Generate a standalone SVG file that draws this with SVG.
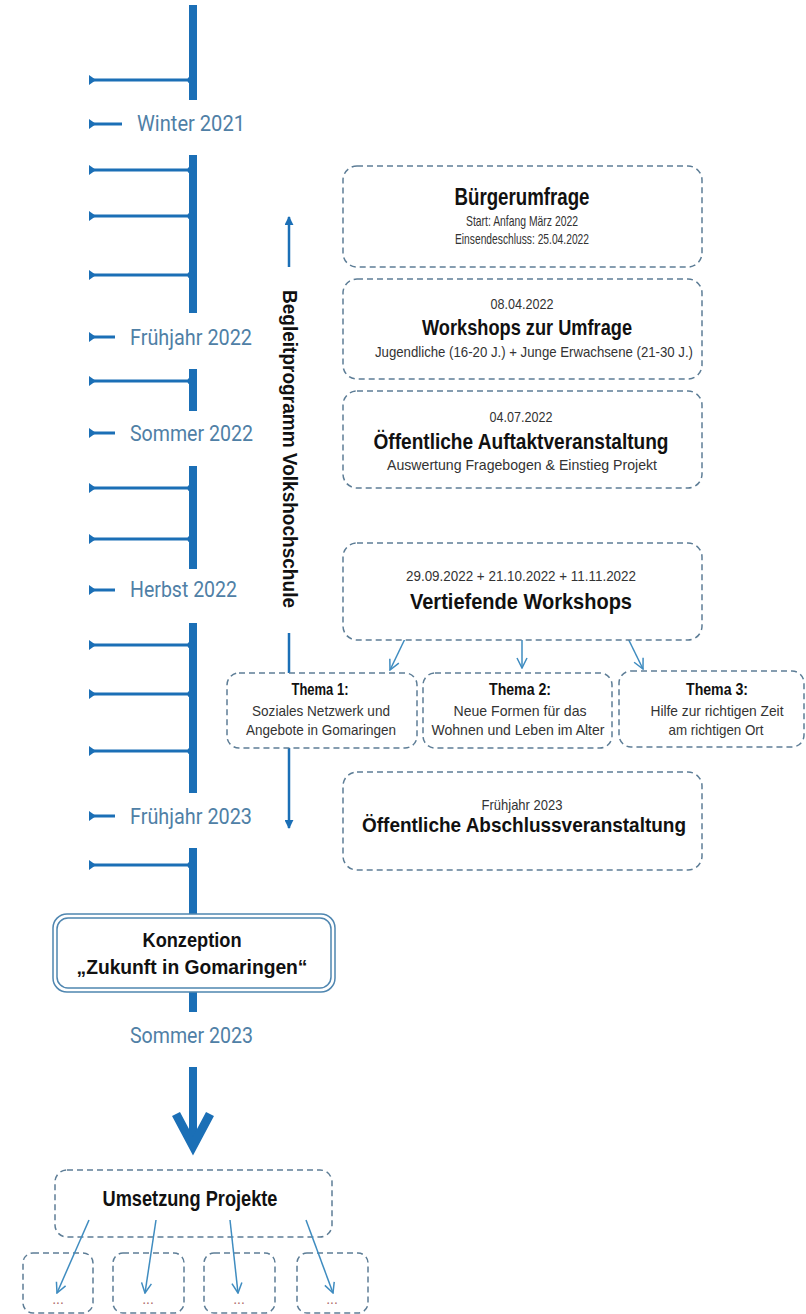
<svg xmlns="http://www.w3.org/2000/svg" width="806" height="1314" viewBox="0 0 806 1314">
<defs>
<marker id="open" viewBox="0 0 12 12" refX="11" refY="6" markerWidth="12" markerHeight="12" markerUnits="userSpaceOnUse" orient="auto">
<path d="M1,1 L11,6 L1,11" fill="none" stroke="#3f8cc0" stroke-width="1.5"/>
</marker>
<marker id="solid" viewBox="0 0 10 10" refX="9" refY="5" markerWidth="9" markerHeight="9" markerUnits="userSpaceOnUse" orient="auto">
<path d="M0,0 L10,5 L0,10 Z" fill="#1b6fb6"/>
</marker>
</defs>
<style>
.bar{fill:#1b6fb6}
.tick{stroke:#1b6fb6;stroke-width:3;fill:none}
.tri{fill:#1b6fb6}
.lbl{font-family:"Liberation Sans Narrow","Roboto",sans-serif;font-size:22px;fill:#4f80a6}
.box{fill:#fff;stroke:#5d7d96;stroke-width:1.5;stroke-dasharray:6 4}
.dbl{fill:#fff;stroke:#4f86b0;stroke-width:1.5}
.t{font-family:"Liberation Sans Narrow","Liberation Sans",sans-serif;text-anchor:middle}
.b{font-weight:bold;fill:#111}
.s{fill:#333}
.arr{stroke:#3f8cc0;stroke-width:1.5;fill:none;marker-end:url(#open)}
.varr{stroke:#1b6fb6;stroke-width:2.5;fill:none;marker-end:url(#solid)}
.dots{font-family:"Liberation Sans",sans-serif;font-size:14px;fill:#b06a6a;text-anchor:middle}
</style>
<rect width="806" height="1314" fill="#fff"/>

<g id="timeline">
<rect class="bar" x="189" y="5" width="8" height="95"/>
<rect class="bar" x="189" y="155" width="8" height="158"/>
<rect class="bar" x="189" y="369" width="8" height="42"/>
<rect class="bar" x="189" y="466" width="8" height="103"/>
<rect class="bar" x="189" y="623" width="8" height="170"/>
<rect class="bar" x="189" y="848" width="8" height="70"/>
<rect class="bar" x="189" y="990" width="8" height="22"/>
<rect class="bar" x="189" y="1067" width="8" height="76"/>
<path d="M176,1114 L193,1146 L210,1114" fill="none" stroke="#1b6fb6" stroke-width="9" stroke-linejoin="miter"/>
</g>

<g id="ticks">
<g id="tick-80"><line class="tick" x1="92" y1="80" x2="191" y2="80"/><polygon class="tri" points="89,75 96,80 89,85"/><circle class="tri" cx="191" cy="80" r="3.5"/></g>
<g id="tick-170"><line class="tick" x1="92" y1="170" x2="191" y2="170"/><polygon class="tri" points="89,165 96,170 89,175"/><circle class="tri" cx="191" cy="170" r="3.5"/></g>
<g id="tick-216"><line class="tick" x1="92" y1="216" x2="191" y2="216"/><polygon class="tri" points="89,211 96,216 89,221"/><circle class="tri" cx="191" cy="216" r="3.5"/></g>
<g id="tick-275"><line class="tick" x1="92" y1="275" x2="191" y2="275"/><polygon class="tri" points="89,270 96,275 89,280"/><circle class="tri" cx="191" cy="275" r="3.5"/></g>
<g id="tick-381"><line class="tick" x1="92" y1="381" x2="191" y2="381"/><polygon class="tri" points="89,376 96,381 89,386"/><circle class="tri" cx="191" cy="381" r="3.5"/></g>
<g id="tick-488"><line class="tick" x1="92" y1="488" x2="191" y2="488"/><polygon class="tri" points="89,483 96,488 89,493"/><circle class="tri" cx="191" cy="488" r="3.5"/></g>
<g id="tick-539"><line class="tick" x1="92" y1="539" x2="191" y2="539"/><polygon class="tri" points="89,534 96,539 89,544"/><circle class="tri" cx="191" cy="539" r="3.5"/></g>
<g id="tick-645"><line class="tick" x1="92" y1="645" x2="191" y2="645"/><polygon class="tri" points="89,640 96,645 89,650"/><circle class="tri" cx="191" cy="645" r="3.5"/></g>
<g id="tick-694"><line class="tick" x1="92" y1="694" x2="191" y2="694"/><polygon class="tri" points="89,689 96,694 89,699"/><circle class="tri" cx="191" cy="694" r="3.5"/></g>
<g id="tick-751"><line class="tick" x1="92" y1="751" x2="191" y2="751"/><polygon class="tri" points="89,746 96,751 89,756"/><circle class="tri" cx="191" cy="751" r="3.5"/></g>
<g id="tick-865"><line class="tick" x1="92" y1="865" x2="191" y2="865"/><polygon class="tri" points="89,860 96,865 89,870"/><circle class="tri" cx="191" cy="865" r="3.5"/></g>
</g>

<g id="season-labels">
<g id="lbl-winter2021"><line class="tick" x1="92" y1="124" x2="122" y2="124"/><polygon class="tri" points="89,119 96,124 89,129"/><text class="lbl" x="137" y="131" textLength="108" lengthAdjust="spacingAndGlyphs">Winter 2021</text></g>
<g id="lbl-fruehjahr2022"><line class="tick" x1="92" y1="337" x2="115" y2="337"/><polygon class="tri" points="89,332 96,337 89,342"/><text class="lbl" x="130" y="345" textLength="122" lengthAdjust="spacingAndGlyphs">Frühjahr 2022</text></g>
<g id="lbl-sommer2022"><line class="tick" x1="92" y1="433" x2="115" y2="433"/><polygon class="tri" points="89,428 96,433 89,438"/><text class="lbl" x="130" y="441" textLength="123" lengthAdjust="spacingAndGlyphs">Sommer 2022</text></g>
<g id="lbl-herbst2022"><line class="tick" x1="92" y1="590" x2="115" y2="590"/><polygon class="tri" points="89,585 96,590 89,595"/><text class="lbl" x="130" y="597" textLength="107" lengthAdjust="spacingAndGlyphs">Herbst 2022</text></g>
<g id="lbl-fruehjahr2023"><line class="tick" x1="92" y1="816" x2="115" y2="816"/><polygon class="tri" points="89,811 96,816 89,821"/><text class="lbl" x="130" y="824" textLength="122" lengthAdjust="spacingAndGlyphs">Frühjahr 2023</text></g>
<g id="lbl-sommer2023"><text class="lbl" x="130" y="1043" textLength="123" lengthAdjust="spacingAndGlyphs">Sommer 2023</text></g>
</g>

<g id="connectors">
<line class="varr" x1="289" y1="267" x2="289" y2="217"/>
<line class="varr" x1="289" y1="633" x2="289" y2="828"/>
<line class="arr" x1="415" y1="618" x2="390" y2="670"/>
<line class="arr" x1="522" y1="615" x2="522" y2="668"/>
<line class="arr" x1="618" y1="618" x2="643" y2="669"/>
</g>

<g id="begleitprogramm">
<text class="t b" transform="translate(283,449) rotate(90)" font-size="21" textLength="318" lengthAdjust="spacingAndGlyphs">Begleitprogramm Volkshochschule</text>
</g>

<g id="buergerumfrage">
<rect class="box" x="343" y="166" width="359" height="101" rx="14"/>
<text class="t b" x="522" y="205" font-size="23" textLength="135" lengthAdjust="spacingAndGlyphs">Bürgerumfrage</text>
<text class="t s" x="522" y="226" font-size="14.5" textLength="112" lengthAdjust="spacingAndGlyphs">Start: Anfang März 2022</text>
<text class="t s" x="522" y="244" font-size="14.5" textLength="134" lengthAdjust="spacingAndGlyphs">Einsendeschluss: 25.04.2022</text>
</g>

<g id="workshops-umfrage">
<rect class="box" x="343" y="279" width="359" height="100" rx="14"/>
<text class="t s" x="522" y="309" font-size="15" textLength="63" lengthAdjust="spacingAndGlyphs">08.04.2022</text>
<text class="t b" x="527" y="335" font-size="22" textLength="210" lengthAdjust="spacingAndGlyphs">Workshops zur Umfrage</text>
<text class="t s" x="534" y="357" font-size="14.5" textLength="318" lengthAdjust="spacingAndGlyphs">Jugendliche (16-20 J.) + Junge Erwachsene (21-30 J.)</text>
</g>

<g id="auftakt">
<rect class="box" x="343" y="391" width="359" height="97" rx="14"/>
<text class="t s" x="521" y="422" font-size="15" textLength="63" lengthAdjust="spacingAndGlyphs">04.07.2022</text>
<text class="t b" x="521" y="449" font-size="22" textLength="295" lengthAdjust="spacingAndGlyphs">Öffentliche  Auftaktveranstaltung</text>
<text class="t s" x="522" y="470" font-size="14.5" textLength="270" lengthAdjust="spacingAndGlyphs">Auswertung Fragebogen  &amp; Einstieg  Projekt</text>
</g>

<g id="vertiefende-workshops">
<rect class="box" x="343" y="543" width="359" height="97" rx="14"/>
<text class="t s" x="521" y="581" font-size="15" textLength="230" lengthAdjust="spacingAndGlyphs">29.09.2022 + 21.10.2022 + 11.11.2022</text>
<text class="t b" x="521" y="609" font-size="22" textLength="222" lengthAdjust="spacingAndGlyphs">Vertiefende  Workshops</text>
</g>

<g id="thema1">
<rect class="box" x="227" y="673" width="190" height="75" rx="12"/>
<text class="t b" x="320" y="695" font-size="16" textLength="57" lengthAdjust="spacingAndGlyphs">Thema 1:</text>
<text class="t s" x="321" y="716" font-size="15" textLength="138" lengthAdjust="spacingAndGlyphs">Soziales Netzwerk und</text>
<text class="t s" x="321" y="735" font-size="15" textLength="150" lengthAdjust="spacingAndGlyphs">Angebote  in Gomaringen</text>
</g>

<g id="thema2">
<rect class="box" x="423" y="673" width="189" height="75" rx="12"/>
<text class="t b" x="520" y="695" font-size="16" textLength="62" lengthAdjust="spacingAndGlyphs">Thema 2:</text>
<text class="t s" x="520" y="716" font-size="15" textLength="133" lengthAdjust="spacingAndGlyphs">Neue  Formen für das</text>
<text class="t s" x="518" y="735" font-size="15" textLength="173" lengthAdjust="spacingAndGlyphs">Wohnen und  Leben  im Alter</text>
</g>

<g id="thema3">
<rect class="box" x="619" y="671" width="185" height="76" rx="12"/>
<text class="t b" x="717" y="695" font-size="16" textLength="62" lengthAdjust="spacingAndGlyphs">Thema 3:</text>
<text class="t s" x="717" y="716" font-size="15" textLength="133" lengthAdjust="spacingAndGlyphs">Hilfe zur richtigen Zeit</text>
<text class="t s" x="716" y="735" font-size="15" textLength="95" lengthAdjust="spacingAndGlyphs">am richtigen Ort</text>
</g>

<g id="abschluss">
<rect class="box" x="343" y="772" width="359" height="98" rx="14"/>
<text class="t s" x="522" y="810" font-size="15" textLength="81" lengthAdjust="spacingAndGlyphs">Frühjahr 2023</text>
<text class="t b" x="524" y="832" font-size="21" textLength="324" lengthAdjust="spacingAndGlyphs">Öffentliche  Abschlussveranstaltung</text>
</g>

<g id="konzeption">
<rect class="dbl" x="53" y="914" width="282" height="78" rx="14"/>
<rect class="dbl" x="57" y="918" width="274" height="70" rx="11"/>
<text class="t b" x="192" y="947" font-size="21" textLength="99" lengthAdjust="spacingAndGlyphs">Konzeption</text>
<text class="t b" x="192" y="974" font-size="21" textLength="231" lengthAdjust="spacingAndGlyphs">„Zukunft in Gomaringen“</text>
</g>

<g id="umsetzung">
<rect class="box" x="55" y="1170" width="277" height="67" rx="12"/>
<text class="t b" x="190" y="1206" font-size="22" textLength="175" lengthAdjust="spacingAndGlyphs">Umsetzung Projekte</text>
</g>

<g id="projekte">
<g id="projekt1"><rect class="box" x="23" y="1253" width="70" height="60" rx="10"/><text class="dots" x="58" y="1304">...</text></g>
<g id="projekt2"><rect class="box" x="113" y="1253" width="71" height="60" rx="10"/><text class="dots" x="148" y="1304">...</text></g>
<g id="projekt3"><rect class="box" x="204" y="1253" width="71" height="60" rx="10"/><text class="dots" x="239" y="1304">...</text></g>
<g id="projekt4"><rect class="box" x="297" y="1253" width="71" height="60" rx="10"/><text class="dots" x="332" y="1304">...</text></g>
</g>

<g id="connectors-projekte">
<line class="arr" x1="89" y1="1220" x2="57" y2="1293"/>
<line class="arr" x1="156" y1="1220" x2="145" y2="1293"/>
<line class="arr" x1="230" y1="1220" x2="238" y2="1293"/>
<line class="arr" x1="306" y1="1220" x2="333" y2="1293"/>
</g>
</svg>
